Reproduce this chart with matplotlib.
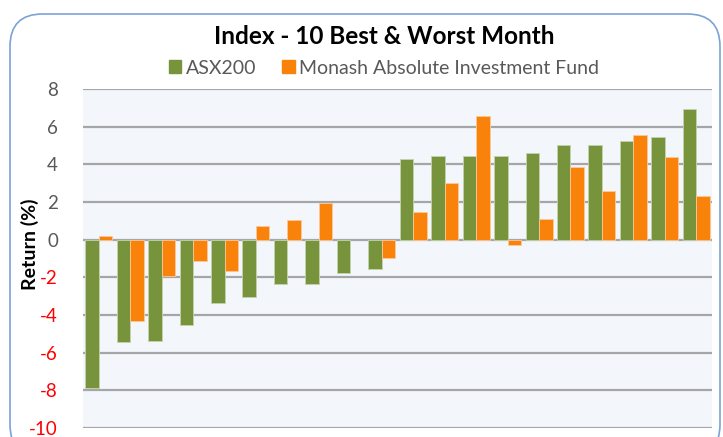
import matplotlib
matplotlib.use("Agg")
import matplotlib.pyplot as plt
import numpy as np
from matplotlib.patches import FancyBboxPatch, Patch

# ---- data ----
series_names = ["ASX200", "Monash Absolute Investment Fund"]
asx200 = [-7.86, -5.46, -5.39, -4.55, -3.34, -3.06, -2.35, -2.35, -1.78, -1.57,
          4.28, 4.43, 4.43, 4.43, 4.59, 5.00, 5.00, 5.23, 5.44, 6.93]
fund = [0.19, -4.32, -1.92, -1.14, -1.64, 0.75, 1.03, 1.95, 0.0, -1.00,
        1.46, 3.02, 6.58, -0.28, 1.10, 3.86, 2.60, 5.58, 4.37, 2.31]
y_ticks = [-10, -8, -6, -4, -2, 0, 2, 4, 6, 8]
title = "Index - 10 Best & Worst Month"
ylabel = "Return (%)"

green = "#77933c"
orange = "#f9820b"
grey_text = "#595959"

plt.rcParams['font.family'] = ['Lato', 'DejaVu Sans']

W, H = 723, 437
fig = plt.figure(figsize=(W / 100, H / 100), dpi=100)
fig.patch.set_facecolor("white")

# rounded border
bx0, by0, bx1, by1 = 10, -20, 720, 423
border = FancyBboxPatch((bx0 / W, by0 / H), (bx1 - bx0) / W, (by1 - by0) / H,
                        boxstyle="round,pad=0,rounding_size=0.045",
                        transform=fig.transFigure, facecolor="none",
                        edgecolor="#7ba3d6", linewidth=1.2, mutation_aspect=W / H)
fig.add_artist(border)

left, right, top, bottom = 83, 712, 89, 428
ax = fig.add_axes([left / W, 1 - bottom / H, (right - left) / W, (bottom - top) / H])
ax.set_facecolor("#f3f6fb")

x = np.arange(len(asx200))
w = 0.43
gb = ax.bar(x - w / 2, asx200, width=w, color=green, edgecolor="#c5d3ad", linewidth=0.6, zorder=3)
ob = ax.bar(x + w / 2, fund, width=w, color=orange, edgecolor="#fcc99a", linewidth=0.6, zorder=3)
for bars, vals in ((gb, asx200), (ob, fund)):
    for b, v in zip(bars, vals):
        if v == 0:
            b.set_linewidth(0)

ax.set_xlim(-0.5, len(asx200) - 0.5)
ax.set_ylim(-10, 8)
ax.set_yticks(y_ticks)
ax.set_yticklabels([str(t) for t in y_ticks])
ax.set_xticks([])
for lab, t in zip(ax.get_yticklabels(), y_ticks):
    lab.set_color("red" if t < 0 else grey_text)
ax.tick_params(axis="y", length=0, pad=18, labelsize=13.5)
for s in ax.spines.values():
    s.set_visible(False)
ax.yaxis.grid(True, color="#a6a6a6", linewidth=1.6, zorder=1)
ax.set_axisbelow(True)

fig.text(30 / W, 1 - 244 / H, ylabel, rotation=90, ha="center", va="center",
         fontsize=14, fontweight="bold", color="black")

fig.text(384 / W, 1 - 37 / H, title, ha="center", va="center",
         fontsize=17.5, fontweight="bold", color="black")

handles = [Patch(color=green, label=series_names[0]), Patch(color=orange, label=series_names[1])]
leg = fig.legend(handles=handles, loc="center", bbox_to_anchor=(384 / W, 1 - 68 / H),
                 ncol=2, frameon=False, fontsize=14, handlelength=0.65, handleheight=0.65,
                 handletextpad=0.25, columnspacing=1.3)
for t in leg.get_texts():
    t.set_color(grey_text)

fig.savefig("out.png", dpi=100)
